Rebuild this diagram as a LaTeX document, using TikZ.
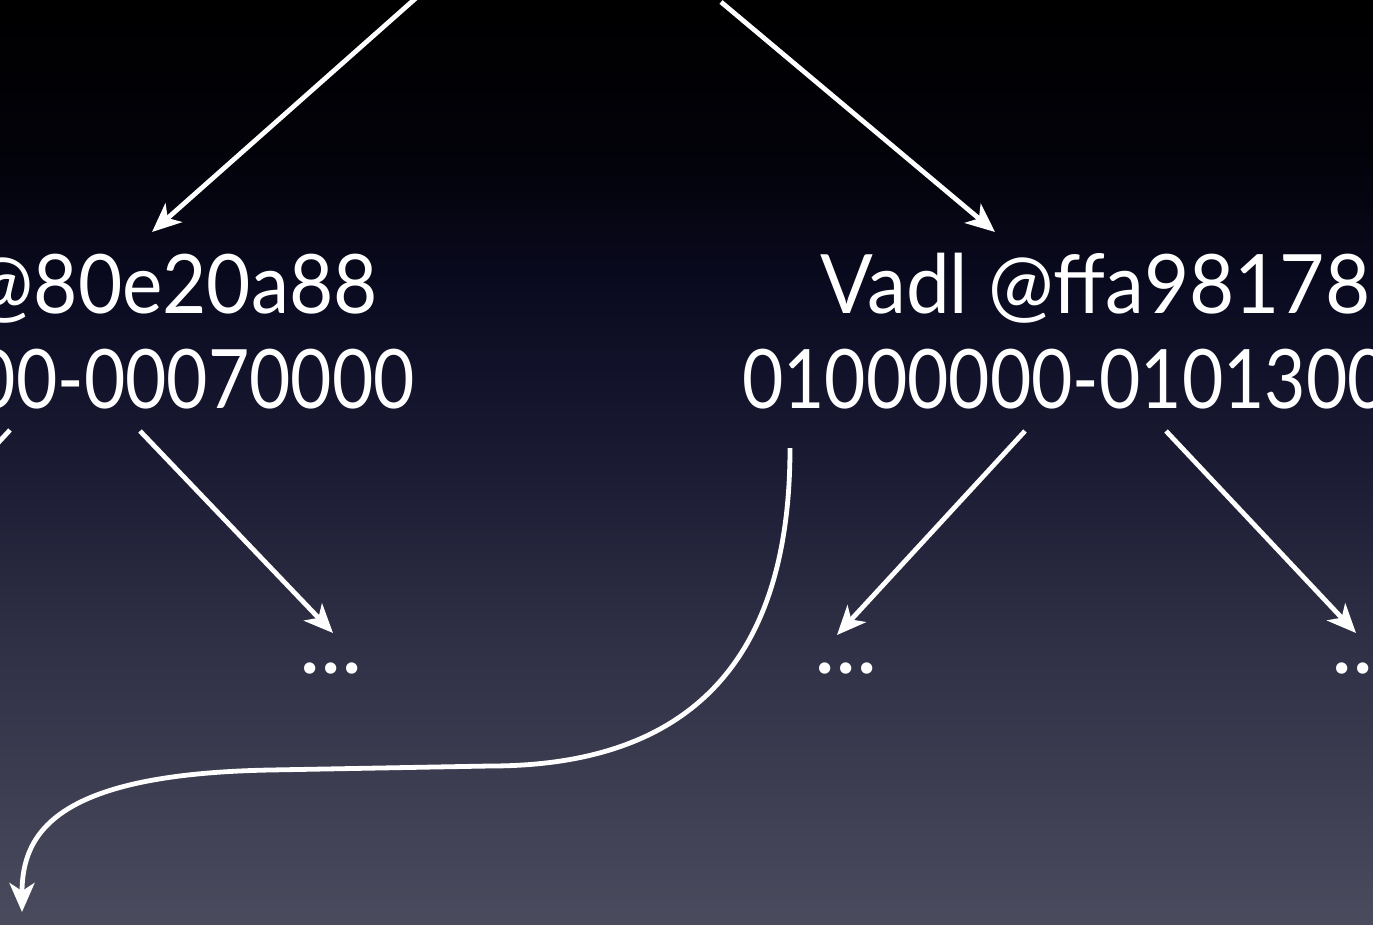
\documentclass[tikz,border=0pt]{standalone}
\usepackage{fontspec}
\setmainfont{Lato}
\usetikzlibrary{arrows.meta}
\definecolor{bgA}{HTML}{000000}
\definecolor{bgB}{HTML}{020209}
\definecolor{bgC}{HTML}{0B0B22}
\definecolor{bgD}{HTML}{1A1A33}
\definecolor{bgE}{HTML}{303046}
\definecolor{bgF}{HTML}{4B4B5E}
\pgfdeclareverticalshading{bgshade}{100bp}{color(0bp)=(bgF); color(25bp)=(bgF); color(39.8bp)=(bgE); color(50.1bp)=(bgD); color(58.8bp)=(bgC); color(66.9bp)=(bgB); color(75bp)=(bgA); color(100bp)=(bgA)}
\newcommand{\fitw}[2]{\resizebox{#1}{\height}{#2}}
\begin{document}
\begin{tikzpicture}[x=1pt,y=-1pt,
  lbl/.style={text=white,inner sep=0pt,font=\fontsize{82}{96}\selectfont},
  conn/.style={draw=white,line width=4.8pt,-{Stealth[length=29pt,width=25pt,inset=8pt]}},
  frag/.style={draw=white,line width=4.8pt}
]
\useasboundingbox (0,0) rectangle (1373,924);
\clip (0,0) rectangle (1373,924);
\shade[shading=bgshade] (0,0) rectangle (1373,924);

% text
\node[lbl,anchor=base east] (L1) at (378,313) {\fitw{408pt}{@80e20a88}};
\node[lbl,anchor=base east] (L2) at (415,408) {\fitw{440pt}{00-00070000}};
\node[lbl,anchor=base west] (R1) at (820,313) {\fitw{550pt}{Vadl @ffa98178}};
\node[lbl,anchor=base west] (R2) at (742,408) {\fitw{688pt}{01000000-01013000}};
\node[lbl] (D1) at (331,669) {\scalebox{1.1}{...}};
\node[lbl] (D2) at (846,669) {\scalebox{1.1}{...}};
\node[lbl,anchor=west] (D3) at (1331,669) {\scalebox{1.1}{...}};

% connector ends
\coordinate (p1) at (416,-2);
\coordinate (t1) at (152,232);
\coordinate (p2) at (721,2);
\coordinate (t2) at (995,232);
\coordinate (s3) at (140,431);
\coordinate (t3) at (333,633);
\coordinate (s4) at (1025,431);
\coordinate (t4) at (837,635);
\coordinate (s5) at (1166,431);
\coordinate (t5) at (1356,633);
\coordinate (s6) at (10,430);
\coordinate (e6) at (-40,484);
\coordinate (s7) at (790,448);
\coordinate (t7) at (22,912);

\draw[conn] (p1) -- (t1);
\draw[conn] (p2) -- (t2);
\draw[conn] (s3) -- (t3);
\draw[conn] (s4) -- (t4);
\draw[conn] (s5) -- (t5);
\draw[frag] (s6) -- (e6);
\draw[conn] (s7) .. controls (790,650) and (700,766) .. (490,766)
  -- (270,770) .. controls (60,774) and (22,830) .. (t7);
\end{tikzpicture}
\end{document}
